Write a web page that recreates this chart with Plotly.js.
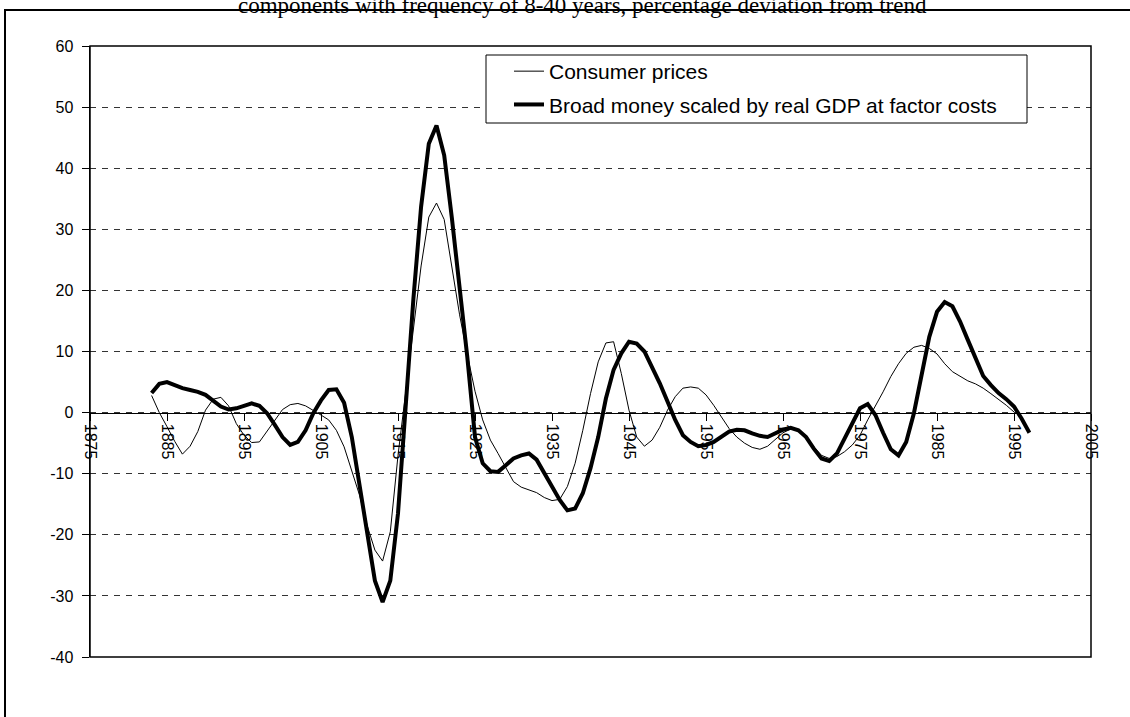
<!DOCTYPE html>
<html>
<head>
<meta charset="utf-8">
<script src="https://cdn.plot.ly/plotly-3.0.1.min.js"></script>
<style>
html,body{margin:0;padding:0;background:#fff;}
#chart{width:1130px;height:717px;}
</style>
</head>
<body>
<div id="chart"></div>
<script>
// ---- data ----
const titleText = "components with frequency of 8-40 years, percentage deviation from trend";
const seriesNames = ["Consumer prices", "Broad money scaled by real GDP at factor costs"];
const pricesStartYear = 1883;
const moneyStartYear = 1883;
const xTickVals = [1875, 1885, 1895, 1905, 1915, 1925, 1935, 1945, 1955, 1965, 1975, 1985, 1995, 2005];
const yTickVals = [-40, -30, -20, -10, 0, 10, 20, 30, 40, 50, 60];

// Consumer prices, 1883-1995
const pricesValues = [
  2.8, 0.0, -2.3, -4.7, -6.8, -5.5, -3.1, 0.4, 2.2, 2.5,
  1.1, -1.8, -3.7, -4.9, -4.8, -3.1, -1.2, 0.5, 1.3, 1.5,
  1.1, 0.4, -0.4, -1.2, -2.9, -5.6, -9.4, -13.5, -18.5, -22.5,
  -24.3, -19.5, -7.0, 3.5, 14.0, 24.0, 32.0, 34.3, 31.6, 24.0,
  16.0, 9.5, 3.5, -1.2, -4.5, -6.7, -9.1, -11.3, -12.2, -12.7,
  -13.1, -13.9, -14.4, -14.2, -12.1, -8.3, -2.9, 3.1, 8.3, 11.4,
  11.6, 6.4, 0.4, -4.0, -5.5, -4.5, -2.4, 0.4, 2.6, 4.0,
  4.2, 4.0, 2.9, 1.2, -0.7, -2.6, -4.0, -5.0, -5.7, -6.0,
  -5.5, -4.4, -3.3, -2.7, -2.8, -4.0, -5.6, -7.0, -7.5, -7.2,
  -6.4, -5.3, -3.7, -1.2, 1.0, 3.4, 5.9, 8.0, 9.7, 10.7,
  11.0, 10.5, 9.6, 8.0, 6.7, 5.9, 5.2, 4.7, 4.0, 3.1,
  2.2, 1.2, 0.1
];

// Broad money scaled by real GDP at factor costs, 1883-1997
const moneyValues = [
  3.2, 4.7, 5.0, 4.5, 4.0, 3.7, 3.4, 2.9, 1.9, 1.0,
  0.5, 0.7, 1.1, 1.5, 1.1, -0.1, -2.0, -4.0, -5.3, -4.8,
  -2.9, -0.1, 2.0, 3.7, 3.8, 1.6, -4.0, -12.0, -20.0, -27.5,
  -31.0, -27.5, -16.5, 1.3, 18.6, 33.7, 44.0, 47.0, 42.1, 31.8,
  20.4, 9.1, -4.0, -8.3, -9.6, -9.7, -8.6, -7.5, -7.0, -6.7,
  -7.7, -10.0, -12.1, -14.3, -16.0, -15.7, -13.2, -9.1, -4.0, 2.3,
  7.0, 9.7, 11.6, 11.3, 10.0, 7.5, 4.8, 1.8, -1.2, -3.7,
  -4.8, -5.5, -5.3, -4.8, -4.0, -3.1, -2.8, -2.9, -3.4, -3.8,
  -4.0, -3.4, -2.8, -2.5, -2.9, -4.0, -5.9, -7.5, -7.9, -6.7,
  -4.2, -1.5, 0.7, 1.4, -0.4, -3.3, -6.0, -7.0, -4.8, -0.1,
  6.4, 12.4, 16.5, 18.1, 17.4, 14.9, 11.9, 8.9, 6.0, 4.5,
  3.2, 2.2, 1.0, -1.0, -3.3
];

const pricesYears = pricesValues.map((_, i) => pricesStartYear + i);
const moneyYears = moneyValues.map((_, i) => moneyStartYear + i);

// ---- layout geometry (pixels) ----
const W = 1130, H = 717;
const M = {l: 90, r: 39, t: 46, b: 60};
const PW = W - M.l - M.r, PH = H - M.t - M.b;
const px = x => (x - M.l) / PW;
const py = y => (H - M.b - y) / PH;

const FONT = "Liberation Sans, Arial, sans-serif";

const traces = [
  {
    x: pricesYears, y: pricesValues, name: seriesNames[0],
    type: "scatter", mode: "lines", legendgroup: "a",
    line: {color: "#000", width: 1}
  },
  {
    x: moneyYears, y: moneyValues, name: seriesNames[1],
    type: "scatter", mode: "lines", legendgroup: "b",
    line: {color: "#000", width: 4}
  }
];

const layout = {
  width: W, height: H,
  margin: M,
  paper_bgcolor: "#fff", plot_bgcolor: "#fff",
  font: {family: FONT, color: "#000", size: 16},
  showlegend: true,
  legend: {
    x: px(509), y: py(51), xanchor: "left", yanchor: "top",
    bgcolor: "rgba(0,0,0,0)", borderwidth: 0,
    font: {family: FONT, size: 21, color: "#000"},
    traceorder: "grouped", tracegroupgap: 3
  },
  xaxis: {
    range: [1875, 2005], tickvals: xTickVals, ticktext: xTickVals.map(String),
    tickangle: 90, ticks: "outside", ticklen: 7, tickcolor: "#000", tickwidth: 1,
    showgrid: false, zeroline: false,
    showline: true, linecolor: "#000", linewidth: 1,
    anchor: "free", position: 0.4,
    tickfont: {family: FONT, size: 16, color: "#000"}
  },
  yaxis: {
    range: [-40, 60], tickvals: yTickVals, ticktext: yTickVals.map(String),
    ticks: "outside", ticklen: 7, tickcolor: "#000", tickwidth: 1,
    ticklabelstandoff: 5,
    showgrid: true, gridcolor: "#333", gridwidth: 1, griddash: "6px,6px",
    zeroline: false, showline: true, linecolor: "#000", linewidth: 1.5,
    tickfont: {family: FONT, size: 16, color: "#000"}
  },
  shapes: [
    // plot area frame
    {type: "rect", xref: "paper", yref: "paper", x0: 0, x1: 1, y0: 0, y1: 1,
     line: {color: "#000", width: 1.5}, fillcolor: "rgba(0,0,0,0)", layer: "above"},
    // legend box
    {type: "rect", xref: "paper", yref: "paper", x0: px(486), x1: px(1027), y0: py(123), y1: py(55),
     line: {color: "#000", width: 1}, fillcolor: "#fff", layer: "above"},
    // outer chart border
    {type: "rect", xref: "paper", yref: "paper", x0: px(5), x1: px(1140), y0: py(730), y1: py(10),
     line: {color: "#000", width: 2}, fillcolor: "rgba(0,0,0,0)", layer: "above"}
  ],
  annotations: [
    {text: titleText, xref: "paper", yref: "paper", x: px(582), y: py(6),
     xanchor: "center", yanchor: "middle", showarrow: false,
     font: {family: "Liberation Serif, Times New Roman, serif", size: 23, color: "#000"}}
  ]
};

Plotly.newPlot("chart", traces, layout, {displayModeBar: false, staticPlot: true});
</script>
</body>
</html>
